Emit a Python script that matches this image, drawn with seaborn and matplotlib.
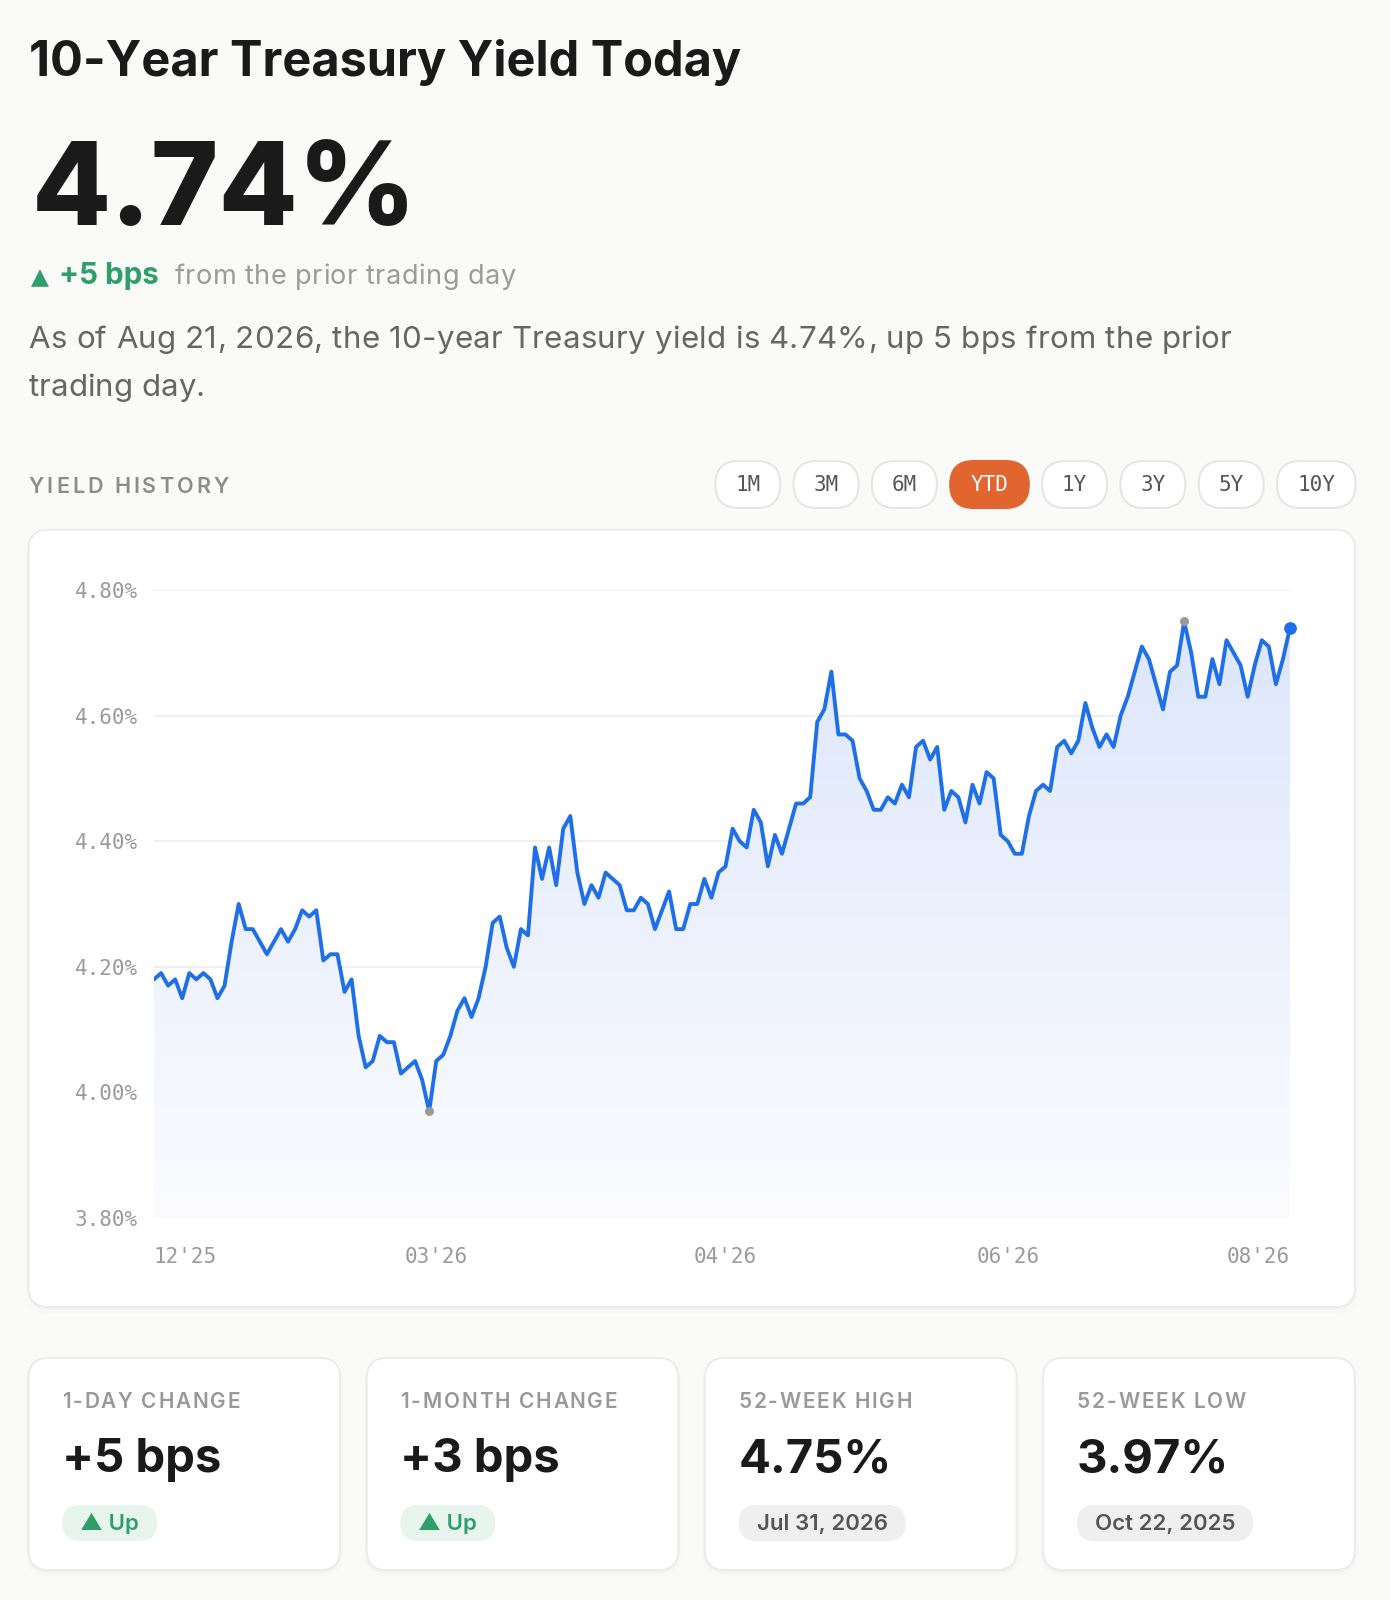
import numpy as np
import pandas as pd
import matplotlib
matplotlib.use("Agg")
import matplotlib.pyplot as plt
import seaborn as sns
from matplotlib.patches import FancyBboxPatch
from matplotlib.colors import LinearSegmentedColormap

# yield history (YTD), one value per trading day
yields = [
    4.18, 4.19, 4.17, 4.18, 4.15, 4.19, 4.18, 4.19, 4.18, 4.15,
    4.17, 4.24, 4.30, 4.26, 4.26, 4.24, 4.22, 4.24, 4.26, 4.24,
    4.26, 4.29, 4.28, 4.29, 4.21, 4.22, 4.22, 4.16, 4.18, 4.09,
    4.04, 4.05, 4.09, 4.08, 4.08, 4.03, 4.04, 4.05, 4.02, 3.97,
    4.05, 4.06, 4.09, 4.13, 4.15, 4.12, 4.15, 4.20, 4.27, 4.28,
    4.23, 4.20, 4.26, 4.25, 4.39, 4.34, 4.39, 4.33, 4.42, 4.44,
    4.35, 4.30, 4.33, 4.31, 4.35, 4.34, 4.33, 4.29, 4.29, 4.31,
    4.30, 4.26, 4.29, 4.32, 4.26, 4.26, 4.30, 4.30, 4.34, 4.31,
    4.35, 4.36, 4.42, 4.40, 4.39, 4.45, 4.43, 4.36, 4.41, 4.38,
    4.42, 4.46, 4.46, 4.47, 4.59, 4.61, 4.67, 4.57, 4.57, 4.56,
    4.50, 4.48, 4.45, 4.45, 4.47, 4.46, 4.49, 4.47, 4.55, 4.56,
    4.53, 4.55, 4.45, 4.48, 4.47, 4.43, 4.49, 4.46, 4.51, 4.50,
    4.41, 4.40, 4.38, 4.38, 4.44, 4.48, 4.49, 4.48, 4.55, 4.56,
    4.54, 4.56, 4.62, 4.58, 4.55, 4.57, 4.55, 4.60, 4.63, 4.67,
    4.71, 4.69, 4.65, 4.61, 4.67, 4.68, 4.75, 4.70, 4.63, 4.63,
    4.69, 4.65, 4.72, 4.70, 4.68, 4.63, 4.68, 4.72, 4.71, 4.65,
    4.69, 4.74,
]
x_tick_idx = [0, 40, 81, 121, 161]
x_tick_labels = ["12'25", "03'26", "04'26", "06'26", "08'26"]
y_ticks = [3.80, 4.00, 4.20, 4.40, 4.60, 4.80]

ranges = ["1M", "3M", "6M", "YTD", "1Y", "3Y", "5Y", "10Y"]
active_range = "YTD"

card_labels = ["1-DAY CHANGE", "1-MONTH CHANGE", "52-WEEK HIGH", "52-WEEK LOW"]
card_values = ["+5 bps", "+3 bps", "4.75%", "3.97%"]
card_tags = ["▲ Up", "▲ Up", "Jul 31, 2026", "Oct 22, 2025"]
card_tag_up = [True, True, False, False]

BG = "#fafaf9"
INK = "#1a1a1a"
GREEN = "#2e9e6a"
BLUE = "#1f6fe8"
ORANGE = "#e0652f"
MONO = "DejaVu Sans Mono"

sns.set_theme(style="white")
plt.rcParams["font.family"] = ["Inter", "DejaVu Sans"]

W, H = 1390, 1600
fig = plt.figure(figsize=(W / 100, H / 100), dpi=100, facecolor=BG)
bg = fig.add_axes([0, 0, 1, 1])
bg.set_xlim(0, W)
bg.set_ylim(H, 0)
bg.axis("off")
R = fig.canvas.get_renderer()


def width(s, **kw):
    t = bg.text(0, 0, s, **kw)
    w = t.get_window_extent(R).width
    t.remove()
    return w


def put(x, y, s, target=None, fit=False, ha="left", **kw):
    # text in pixel coords; target = width to reach, by font size (fit) or letter spacing
    if target is not None and fit:
        kw["fontsize"] = kw["fontsize"] * target / width(s, **kw)
        target = None
    if target is None:
        bg.text(x, y, s, ha=ha, va="baseline", **kw)
        return
    bar = width("|", **kw)
    adv = [width(s[:k] + "|", **kw) - bar if k else 0 for k in range(len(s))]
    track = (target - width(s, **kw)) / max(len(s) - 1, 1)
    if ha == "center":
        x -= target / 2
    for k, ch in enumerate(s):
        if ch != " ":
            bg.text(x + adv[k] + k * track, y, ch, ha="left", va="baseline", **kw)


def box(x0, y0, x1, y1, fc, ec="none", r=None, lw=0, z=1):
    r = (y1 - y0) / 2 if r is None else r
    bg.add_patch(FancyBboxPatch((x0, y0), x1 - x0, y1 - y0,
                                boxstyle=f"round,pad=0,rounding_size={r}",
                                fc=fc, ec=ec, lw=lw, zorder=z))


def card(x0, y0, x1, y1):
    for d, a in [(6, 0.012), (3, 0.02)]:
        box(x0 - d / 2, y0 + 1, x1 + d / 2, y1 + d, fc=(0, 0, 0, a), r=22, z=0.5)
    box(x0, y0, x1, y1, fc="white", ec="#ebebeb", r=20, lw=1.3)


# header
put(28.6, 76.5, "10-Year Treasury Yield Today", target=713, fit=True, fontsize=40,
    weight="bold", color=INK)
put(31.6, 224.5, "4.74%", target=385, fit=True, fontsize=92, weight="heavy", color=INK)
put(30.6, 284.5, "▲", target=18, fit=True, fontsize=16, color=GREEN, family="DejaVu Sans")
put(59.2, 284.5, "+5 bps", target=100, fit=True, fontsize=20, weight="bold", color=GREEN)
put(174.5, 284.5, "from the prior trading day", target=341, fontsize=19.5,
    color="#9b9b9b")
put(28.6, 348, "As of Aug 21, 2026, the 10-year Treasury yield is 4.74%, up 5 bps from the prior",
    target=1203, fontsize=22.5, color="#666666")
put(28.6, 396, "trading day.", target=176.5, fontsize=22.5, color="#666666")

put(28.6, 493, "YIELD HISTORY", target=200, fontsize=15.5, weight="semibold",
    color="#8c8c8c")

# range buttons
bx = 715.3
for lab in ranges:
    bw = 37.8 + 13.6 * len(lab)
    on = lab == active_range
    box(bx, 461, bx + bw, 508, fc=ORANGE if on else "white",
        ec=ORANGE if on else "#e6e6e6", lw=1.5)
    bg.text(bx + bw / 2, 485, lab, ha="center", va="center", fontsize=15,
            family=MONO, color="white" if on else "#555555", zorder=3)
    bx += bw + 13.3

# chart card
card(28.6, 529.6, 1355, 1307)

ax = fig.add_axes([154 / W, 1 - 1218 / H, 1136 / W, 628 / H])
ax.set_facecolor("none")
df = pd.DataFrame({"day": np.arange(len(yields)), "yield": yields})

fill = ax.fill_between(df["day"], df["yield"], 3.80, color="none", lw=0)
grad = np.linspace(1, 0, 256).reshape(-1, 1)
cmap = LinearSegmentedColormap.from_list("fade", ["#fcfcff", "#dbe5fb"])
im = ax.imshow(grad, cmap=cmap, aspect="auto", extent=[0, len(yields) - 1, 3.80, 4.80],
               origin="upper", zorder=1)
im.set_clip_path(fill.get_paths()[0], transform=ax.transData)

sns.lineplot(data=df, x="day", y="yield", ax=ax, color=BLUE, linewidth=2.8, zorder=3)

lo, hi = int(np.argmin(yields)), int(np.argmax(yields))
sns.scatterplot(x=[lo, hi], y=[yields[lo], yields[hi]], ax=ax, color="#9a9a9a",
                s=42, linewidth=0, zorder=4)
ax.scatter([len(yields) - 1], [yields[-1]], color=BLUE, s=85, linewidth=0,
           zorder=5, clip_on=False)

ax.set_xlim(0, len(yields) - 1)
ax.set_ylim(3.80, 4.80)
ax.set_yticks(y_ticks, [f"{v:.2f}%" for v in y_ticks])
ax.set_xticks(x_tick_idx, x_tick_labels)
ax.tick_params(axis="y", length=0, pad=11.5, labelsize=15, labelcolor="#9a9a9a")
ax.tick_params(axis="x", length=0, pad=21, labelsize=15, labelcolor="#9a9a9a")
for t in ax.get_xticklabels() + ax.get_yticklabels():
    t.set_family(MONO)
xl = ax.get_xticklabels()
xl[0].set_ha("left")
xl[-1].set_ha("right")
ax.yaxis.grid(True, color="#eeeeee", lw=1.3)
ax.xaxis.grid(False)
ax.set_axisbelow(True)
ax.set_xlabel("")
ax.set_ylabel("")
sns.despine(ax=ax, left=True, bottom=True)

# stat cards
cw, gap = 311.5, 26.7
for i, (lab, val, tag, up) in enumerate(zip(card_labels, card_values, card_tags, card_tag_up)):
    x0 = 28.6 + i * (cw + gap)
    card(x0, 1358, x0 + cw, 1570)
    tx = x0 + 33.6
    put(tx, 1408, lab, target=width(lab, fontsize=15, weight="semibold") * 1.12,
        fontsize=15, weight="semibold", color="#999999")
    put(tx, 1472.4, val, fontsize=34, weight="bold", color=INK)
    tw = width(tag, fontsize=16, weight="semibold")
    pw = tw + 36
    box(tx, 1505, tx + pw, 1541, fc="#e7f5ee" if up else "#efefef", z=2)
    bg.text(tx + pw / 2, 1523.5, tag, ha="center", va="center", fontsize=16,
            weight="semibold", color=GREEN if up else "#555555", zorder=3)

fig.savefig("out.png", dpi=100, facecolor=BG)
